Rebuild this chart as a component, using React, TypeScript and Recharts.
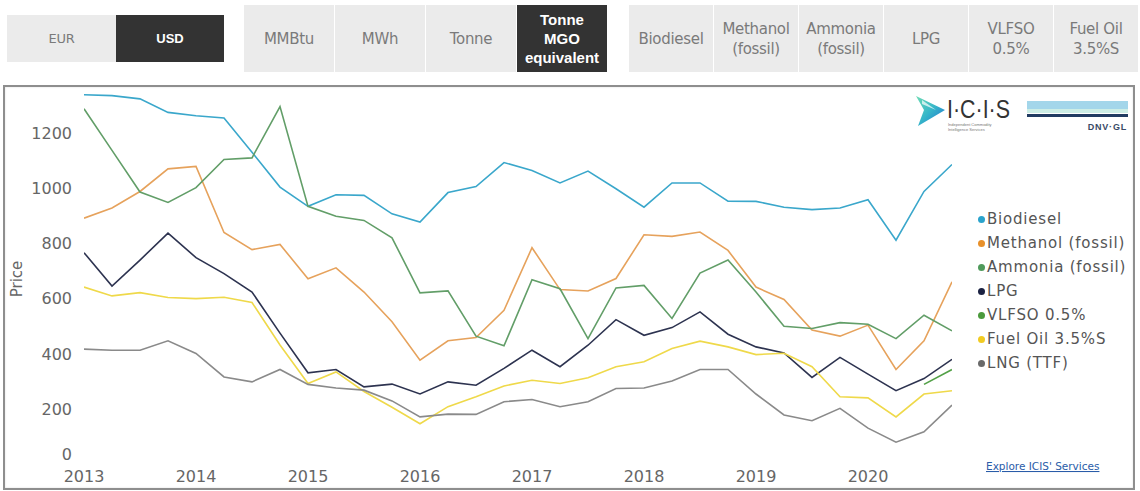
import React from "react";
import { LineChart, Line, XAxis, YAxis, Legend } from "recharts";

// ---------- data ----------
const quarterTimes = [
  2013, 2013.25, 2013.5, 2013.75, 2014, 2014.25, 2014.5, 2014.75,
  2015, 2015.25, 2015.5, 2015.75, 2016, 2016.25, 2016.5, 2016.75,
  2017, 2017.25, 2017.5, 2017.75, 2018, 2018.25, 2018.5, 2018.75,
  2019, 2019.25, 2019.5, 2019.75, 2020, 2020.25, 2020.5, 2020.75,
];

const biodiesel = [1340, 1337, 1325, 1276, 1264, 1256, 1131, 1005, 935, 977, 975, 908, 878, 985, 1007, 1094, 1065, 1020, 1063, 999, 932, 1020, 1020, 954, 953, 932, 923, 929, 959, 812, 989, 1087];
const methanol = [892, 929, 989, 1071, 1080, 840, 778, 797, 672, 712, 624, 516, 377, 447, 459, 558, 785, 633, 628, 673, 832, 826, 842, 775, 642, 597, 486, 464, 504, 343, 447, 661];
const ammonia = [1289, 1138, 987, 949, 1003, 1105, 1111, 1297, 935, 899, 884, 821, 621, 628, 464, 429, 669, 636, 455, 639, 648, 528, 693, 740, 624, 500, 492, 513, 507, 455, 540, 483];
const lpg = [767, 646, 740, 838, 749, 691, 624, 475, 331, 343, 280, 290, 254, 298, 286, 347, 413, 353, 431, 524, 467, 495, 552, 471, 425, 403, 314, 387, 326, 266, 310, 380];
const vlfso: (number | null)[] = [null, null, null, null, null, null, null, null, null, null, null, null, null, null, null, null, null, null, null, null, null, null, null, null, null, null, null, null, null, null, 289, 343];
const fuelOil = [642, 610, 622, 604, 600, 605, 586, 432, 292, 334, 263, 206, 146, 208, 244, 283, 304, 292, 313, 353, 371, 419, 446, 425, 397, 402, 353, 244, 240, 171, 254, 266];
const lng = [417, 413, 413, 447, 401, 316, 298, 343, 289, 276, 268, 229, 171, 181, 180, 226, 234, 208, 226, 274, 276, 301, 343, 343, 254, 178, 157, 202, 130, 79, 117, 214];

const yearTicks = [2013, 2014, 2015, 2016, 2017, 2018, 2019, 2020];
const priceTicks = [0, 200, 400, 600, 800, 1000, 1200];

const seriesNames = ["Biodiesel", "Methanol (fossil)", "Ammonia (fossil)", "LPG", "VLFSO 0.5%", "Fuel Oil 3.5%S", "LNG (TTF)"];
const seriesKeys = ["biodiesel", "methanol", "ammonia", "lpg", "vlfso", "fuelOil", "lng"];
const lineColors = ["#3aa7cb", "#e6a25c", "#629e68", "#2d3350", "#52a047", "#efd94a", "#8a8a8a"];
const dotColors = ["#2aa3cc", "#e8902a", "#4f9a5b", "#1b2242", "#4b9a3c", "#f1cb22", "#6a6a6a"];

const currencyButtons = ["EUR", "USD"];
const unitButtons = [["MMBtu"], ["MWh"], ["Tonne"], ["Tonne", "MGO", "equivalent"]];
const fuelButtons = [["Biodiesel"], ["Methanol", "(fossil)"], ["Ammonia", "(fossil)"], ["LPG"], ["VLFSO", "0.5%"], ["Fuel Oil", "3.5%S"]];

const seriesArrays = [biodiesel, methanol, ammonia, lpg, vlfso, fuelOil, lng];
const data = quarterTimes.map((t, i) => {
  const row: Record<string, number | null> = { t };
  seriesKeys.forEach((k, j) => {
    row[k] = seriesArrays[j][i];
  });
  return row;
});

// ---------- helpers ----------
const FONT = "'DejaVu Sans', Verdana, sans-serif";

function Button({ left, top, width, height, lines, dark, small }: any) {
  return (
    <div
      style={{
        position: "absolute",
        left,
        top,
        width,
        height,
        background: dark ? "#333333" : "#ebebeb",
        color: dark ? "#ffffff" : "#7a7a7a",
        display: "flex",
        flexDirection: "column",
        alignItems: "center",
        justifyContent: "center",
        fontFamily: dark ? "'Liberation Sans', Arial, sans-serif" : FONT,
        fontWeight: dark ? 700 : 400,
        fontSize: small ? 13 : 15,
        letterSpacing: dark ? 0 : -0.3,
        lineHeight: dark ? "19px" : "20px",
        textAlign: "center",
      }}
    >
      {lines.map((l: string, i: number) => (
        <div key={i}>{l}</div>
      ))}
    </div>
  );
}

const YTick = (props: any) => {
  const { x, y, payload } = props;
  const shift = payload.value === 0 ? -10 : 0;
  return (
    <text x={x - 4} y={y + shift} dy="0.36em" textAnchor="end" fill="#666" fontSize={16} fontFamily={FONT}>
      {payload.value}
    </text>
  );
};

const XTick = (props: any) => {
  const { x, y, payload } = props;
  return (
    <text x={x} y={y - 1} dy="0.71em" textAnchor="middle" fill="#666" fontSize={16} fontFamily={FONT}>
      {payload.value}
    </text>
  );
};

const renderLegend = () => (
  <div style={{ fontFamily: FONT, fontSize: 15, letterSpacing: 0.8, color: "#555" }}>
    {seriesNames.map((n, i) => (
      <div key={n} style={{ display: "flex", alignItems: "center", height: 24 }}>
        <span
          style={{
            display: "inline-block",
            width: 7,
            height: 7,
            borderRadius: "50%",
            background: dotColors[i],
            marginRight: 2,
          }}
        />
        <span>{n}</span>
      </div>
    ))}
  </div>
);

export default function App() {
  return (
    <div style={{ position: "absolute", left: 0, top: 0, width: 1140, height: 491, background: "#fff", overflow: "hidden" }}>
      {/* toolbar */}
      <Button left={7} top={15} width={109} height={47} lines={[currencyButtons[0]]} small />
      <div
        style={{
          position: "absolute", left: 116, top: 15, width: 108, height: 47, background: "#333",
          color: "#fff", fontFamily: "'Liberation Sans', Arial, sans-serif", fontWeight: 700, fontSize: 13,
          display: "flex", alignItems: "center", justifyContent: "center",
        }}
      >
        {currencyButtons[1]}
      </div>
      {unitButtons.map((lines, i) => (
        <Button key={"u" + i} left={244 + i * 91} top={5} width={90} height={67} lines={lines} dark={i === 3} />
      ))}
      {fuelButtons.map((lines, i) => (
        <Button key={"f" + i} left={629 + i * 85} top={5} width={84} height={67} lines={lines} />
      ))}

      {/* chart frame */}
      <div
        style={{
          position: "absolute", left: 3, top: 85, width: 1128, height: 401,
          border: "2px solid #8e8e8e", boxShadow: "inset 0 0 2px rgba(0,0,0,0.15)",
        }}
      />

      {/* logos and static text */}
      <svg style={{ position: "absolute", left: 0, top: 0 }} width={1140} height={491}>
        <defs>
          <linearGradient id="icisg" x1="0" y1="0" x2="1" y2="1">
            <stop offset="0" stopColor="#6fdcb4" />
            <stop offset="0.5" stopColor="#36b6c9" />
            <stop offset="1" stopColor="#1f6fcf" />
          </linearGradient>
        </defs>
        <polygon points="916,96 945,110 918,126 924,110" fill="url(#icisg)" />
        <polygon points="922,100 936,110 922,104" fill="#ffffff" opacity={0.7} />
        <text x={947} y={118} fontFamily="'Liberation Sans', Arial, sans-serif" fontSize={25} fill="#333" textLength={63} lengthAdjust="spacingAndGlyphs">
          I·C·I·S
        </text>
        <text x={948} y={126} fontFamily="'Liberation Sans', Arial, sans-serif" fontSize={4} fill="#777">
          Independent Commodity
        </text>
        <text x={948} y={131} fontFamily="'Liberation Sans', Arial, sans-serif" fontSize={4} fill="#777">
          Intelligence Services
        </text>
        <rect x={1027} y={101} width={101} height={8} fill="#a3d6ea" />
        <rect x={1027} y={109} width={101} height={4} fill="#cdeee6" />
        <rect x={1027} y={114} width={101} height={3} fill="#223c62" />
        <text x={1127} y={130} textAnchor="end" fontFamily="'Liberation Sans', Arial, sans-serif" fontSize={9} fontWeight={700} fill="#3a4a66" letterSpacing={0.8}>
          DNV·GL
        </text>
        <text x={17} y={279} transform="rotate(-90 17 279)" textAnchor="middle" dominantBaseline="central" fontFamily={FONT} fontSize={15} fill="#666">
          Price
        </text>
        <text x={986} y={470} fontFamily={FONT} fontSize={10.5} fill="#2a5ca8" textDecoration="underline">
          Explore ICIS' Services
        </text>
      </svg>

      <div style={{ position: "absolute", left: 0, top: 0 }}>
        <LineChart width={1140} height={491} data={data} margin={{ top: 92, right: 188, bottom: 7, left: 24 }}>
          <XAxis
            dataKey="t"
            type="number"
            domain={[2013, 2020.75]}
            ticks={yearTicks}
            axisLine={false}
            tickLine={false}
            height={20}
            tick={<XTick />}
            interval={0}
            allowDataOverflow
          />
          <YAxis
            type="number"
            domain={[0, 1350]}
            ticks={priceTicks}
            axisLine={false}
            tickLine={false}
            width={60}
            tick={<YTick />}
            interval={0}
            allowDataOverflow
          />
          <Legend
            layout="vertical"
            align="center"
            verticalAlign="middle"
            wrapperStyle={{ left: 978, top: 207, width: 162 }}
            content={renderLegend}
          />
          {seriesKeys.map((k, i) => (
            <Line
              key={k}
              dataKey={k}
              name={seriesNames[i]}
              stroke={lineColors[i]}
              strokeWidth={1.6}
              dot={false}
              activeDot={false}
              connectNulls={false}
              isAnimationActive={false}
              type="linear"
            />
          ))}
        </LineChart>
      </div>
    </div>
  );
}
